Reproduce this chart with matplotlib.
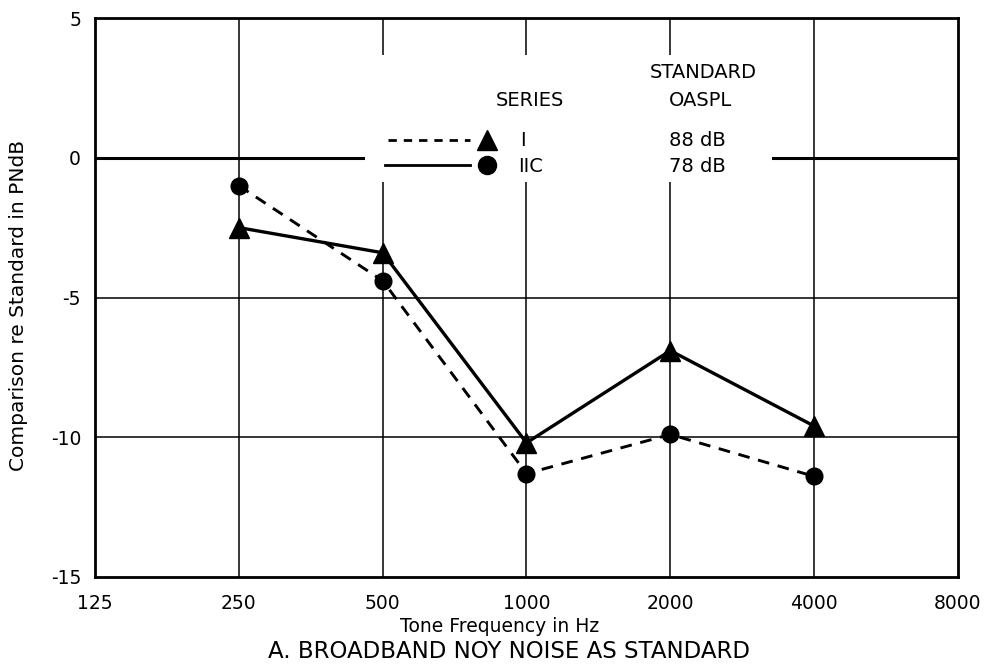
import matplotlib
matplotlib.use('Agg')
import matplotlib.pyplot as plt
from matplotlib.patches import Rectangle
from matplotlib.lines import Line2D

freqs = [250, 500, 1000, 2000, 4000]
circles = [-1.0, -4.4, -11.3, -9.9, -11.4]     # dashed line
triangles = [-2.5, -3.4, -10.2, -6.9, -9.6]    # solid line
xticks = [125, 250, 500, 1000, 2000, 4000, 8000]
yticks = [5, 0, -5, -10, -15]

plt.rcParams['font.family'] = ['DejaVu Sans']

fig = plt.figure(figsize=(9.84, 6.65), dpi=100)
ax = fig.add_axes([95/984, 88/665, 863/984, 559/665])
ax.set_xscale('log', base=2)
ax.set_xlim(125, 8000)
ax.set_ylim(-15, 5)

# grid
for x in xticks[1:-1]:
    ax.axvline(x, color='black', lw=1.1, zorder=1)
for y in [-5, -10]:
    ax.axhline(y, color='black', lw=1.1, zorder=1)
ax.axhline(0, color='black', lw=2.2, zorder=1)

# blank area behind legend
ax.add_patch(Rectangle(((365-95)/863, (577-182)/559), (772-365)/863, (182-55)/559,
                       transform=ax.transAxes, facecolor='white', edgecolor='none', zorder=2))

ax.plot(freqs, circles, color='black', lw=2.1, ls=(0, (4, 3)), marker='o', ms=12, zorder=3)
ax.plot(freqs, triangles, color='black', lw=2.4, ls='-', marker='^', ms=14, zorder=3)

for s in ax.spines.values():
    s.set_linewidth(2)
ax.set_xticks(xticks)
ax.set_xticklabels([str(t) for t in xticks])
ax.minorticks_off()
ax.set_yticks(yticks)
ax.set_yticklabels(['5', '0', '-5', '-10', '-15'])
ax.tick_params(length=0, labelsize=13.5)
ax.tick_params(axis='x', pad=12)
ax.tick_params(axis='y', pad=10)

ax.set_ylabel('Comparison re Standard in PNdB', fontsize=14.5, labelpad=5)
ax.yaxis.set_label_coords(-0.078, 0.486)
fig.text(500/984, 1-627/665, 'Tone Frequency in Hz', fontsize=13.5, ha='center', va='center')
fig.text(509/984, 1-652/665, 'A. BROADBAND NOY NOISE AS STANDARD', fontsize=16.5,
         ha='center', va='center')

# legend drawn by hand
def ax_xy(px, py):
    return (px-95)/863, (577-py)/559

tr = ax.transAxes
kw = dict(transform=tr, fontsize=14, va='center', zorder=5)
ax.text(*ax_xy(530, 100), 'SERIES', ha='center', **kw)
ax.text(*ax_xy(703, 73), 'STANDARD', ha='center', **kw)
ax.text(*ax_xy(700, 100), 'OASPL', ha='center', **kw)
ax.add_line(Line2D([ax_xy(388, 0)[0], ax_xy(470, 0)[0]], [ax_xy(0, 140)[1]]*2, transform=tr,
                   color='black', lw=2, ls=(0, (3, 2.5)), zorder=5))
ax.plot(*ax_xy(487, 140), marker='^', ms=14, color='black', transform=tr, zorder=5)
ax.add_line(Line2D([ax_xy(385, 0)[0], ax_xy(470, 0)[0]], [ax_xy(0, 165)[1]]*2, transform=tr,
                   color='black', lw=2, zorder=5))
ax.plot(*ax_xy(487, 165), marker='o', ms=13, color='black', transform=tr, zorder=5)
ax.text(*ax_xy(520, 140), 'I', ha='left', **kw)
ax.text(*ax_xy(518, 166), 'IIC', ha='left', **kw)
ax.text(*ax_xy(697, 140), '88 dB', ha='center', **kw)
ax.text(*ax_xy(697, 166), '78 dB', ha='center', **kw)

fig.savefig('out.png', dpi=100)
